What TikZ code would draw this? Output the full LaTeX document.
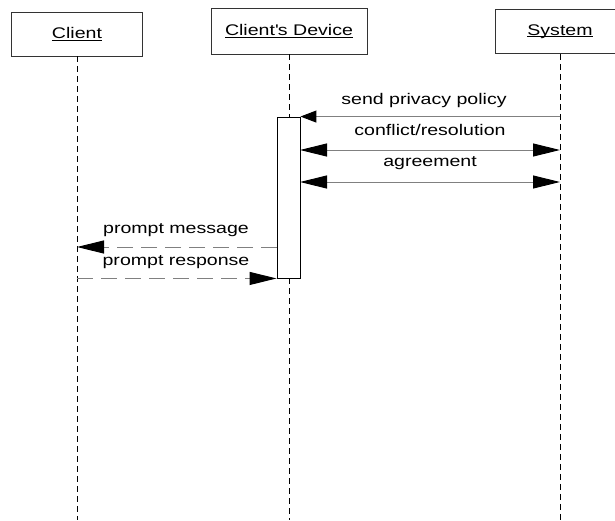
\documentclass[tikz,border=0pt]{standalone}
\usepackage{fontspec}
\setmainfont{Liberation Sans}[FakeStretch=1.27]
\usetikzlibrary{arrows.meta}
% underlined title with the rule just below the baseline
\newcommand\ulbox[1]{\setbox0\hbox{#1}\rlap{\rule[-1.8pt]{\wd0}{0.8pt}}\box0}
\begin{document}
\begin{tikzpicture}[x=1pt,y=-1pt,
  every node/.style={font=\fontsize{15.4}{18}\selectfont},
  actor/.style={draw=black!80, line width=0.9pt, fill=white, inner sep=0pt},
  life/.style={draw=black, line width=0.8pt, dash pattern=on 6pt off 4pt},
  msg/.style={draw=black!50, line width=1pt},
  reply/.style={msg, dash pattern=on 16pt off 8pt},
  bighead/.style={-{Triangle[length=27pt,width=13pt,color=black]}},
  bothheads/.style={{Triangle[length=27pt,width=13pt,color=black]}-{Triangle[length=27pt,width=13pt,color=black]}},
  smallhead/.style={-{Triangle[length=16pt,width=12pt,color=black]}},
  lbl/.style={anchor=base, inner sep=0pt}]
\useasboundingbox (0,0) rectangle (615,520);
\clip (0,0) rectangle (615,520);

% participants
\node[actor, minimum width=131pt, minimum height=44pt] (client) at (77,34) {\ulbox{Client}};
\node[actor, minimum width=156pt, minimum height=46pt] (device) at (289,31) {\ulbox{Client\textquotesingle s Device}};
\node[actor, minimum width=130pt, minimum height=44pt] (system) at (560,31.3) {\ulbox{System}};

% activation bar of the device
\coordinate (devbottom) at (289,520);
\draw[life] (device.south) -- (device.south |- 0,117);
\draw[life] (289,278) -- (devbottom);
\node[draw=black, line width=0.9pt, fill=white, minimum width=23pt, minimum height=161pt, inner sep=0pt] (act) at (288.5,197.5) {};

% lifelines
\coordinate (clientbottom) at (77,520);
\coordinate (systembottom) at (560,520);
\draw[life] (client.south) -- (clientbottom);
\draw[life] (system.south) -- (systembottom);

% messages
\coordinate (sys1) at (system.south |- act.north);
\draw[msg, smallhead] (sys1) -- (act.north east);
\node[lbl] (m1) at (424,104) {send privacy policy};

\coordinate (dev2) at (300,150);
\coordinate (sys2) at (system.south |- dev2);
\draw[msg, bothheads] (dev2) -- (sys2);
\node[lbl] (m2) at (430,135) {conflict/resolution};

\coordinate (dev3) at (300,182);
\coordinate (sys3) at (system.south |- dev3);
\draw[msg, bothheads] (dev3) -- (sys3);
\node[lbl] (m3) at (430,166.7) {agreement};

\coordinate (dev4) at (277,247);
\coordinate (cli4) at (client.south |- dev4);
\draw[reply, bighead] (dev4) -- (cli4);
\node[lbl] (m4) at (176,233) {prompt message};

\coordinate (cli5) at (client.south |- act.south);
\draw[reply, bighead] (cli5) -- (act.south west);
\node[lbl] (m5) at (176,265) {prompt response};
\end{tikzpicture}
\end{document}
